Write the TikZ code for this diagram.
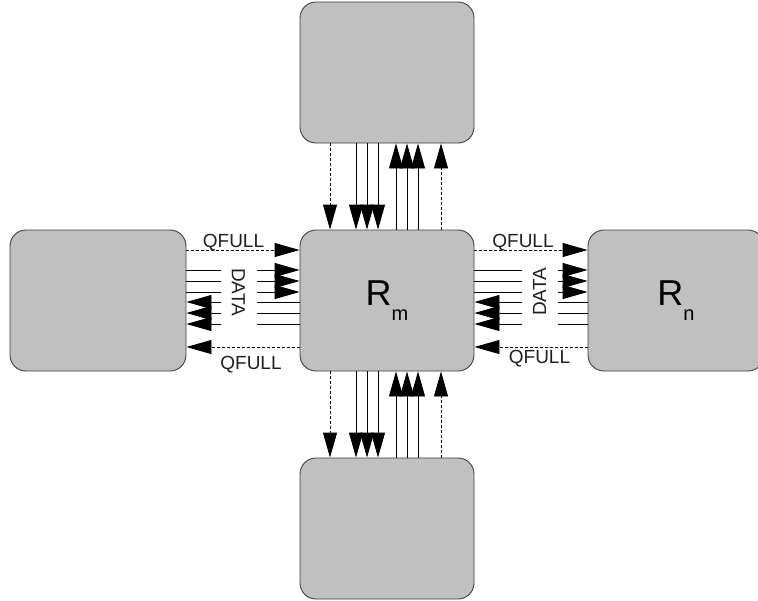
\documentclass[tikz,border=0pt]{standalone}
\usepackage{fontspec}
\setmainfont{Liberation Sans}
\usetikzlibrary{arrows.meta,calc}
\definecolor{boxgray}{HTML}{C0C0C0}
\definecolor{edgec}{HTML}{404040}
\definecolor{txtc}{HTML}{202020}
\begin{document}
\begin{tikzpicture}[x=1pt,y=-1pt,
  router/.style={draw=edgec,fill=boxgray,rounded corners=16pt,line width=0.9pt,
    inner sep=0pt,minimum height=141pt,text=black,font=\fontsize{36}{40}\selectfont},
  wire/.style={line width=0.9pt,-{Triangle[length=25pt,width=14pt]}},
  qwire/.style={wire,dash pattern=on 3pt off 2pt},
  lbl/.style={font=\fontsize{19}{21}\selectfont,text=txtc,inner sep=0pt},
  gap/.style={lbl,fill=white,minimum width=72pt,minimum height=36pt}
 ]
\useasboundingbox (0,0) rectangle (758,600);
\clip (0,0) rectangle (758,600);
\fill[white] (0,0) rectangle (758,600);
% routers
\node[router,minimum width=174pt] (c) at (387,300.5) {R\raisebox{-15pt}{\fontsize{20}{22}\selectfont m}};
\node[router,minimum width=174pt] (t) at (387,72.5) {};
\node[router,minimum width=174pt] (b) at (387,528.5) {};
\node[router,minimum width=176pt] (l) at (98,300.5) {};
\node[router,minimum width=176pt] (r) at (676,300.5) {R\raisebox{-15pt}{\fontsize{20}{22}\selectfont n}};
% top channel
\draw[qwire] ($(t.south)+(-57,0)$) -- ($(c.north)+(-57,0)$);
\foreach \dx in {-31,-20,-9} \draw[wire] ($(t.south)+(\dx,0)$) -- ($(c.north)+(\dx,0)$);
\foreach \dx in {9,20,31} \draw[wire] ($(c.north)+(\dx,0)$) -- ($(t.south)+(\dx,0)$);
\draw[qwire] ($(c.north)+(54,0)$) -- ($(t.south)+(54,0)$);
% bottom channel
\draw[qwire] ($(c.south)+(-57,0)$) -- ($(b.north)+(-57,0)$);
\foreach \dx in {-31,-20,-9} \draw[wire] ($(c.south)+(\dx,0)$) -- ($(b.north)+(\dx,0)$);
\foreach \dx in {9,20,31} \draw[wire] ($(b.north)+(\dx,0)$) -- ($(c.south)+(\dx,0)$);
\draw[qwire] ($(b.north)+(54,0)$) -- ($(c.south)+(54,0)$);
% left channel
\draw[qwire] ($(l.east)+(0,-50.5)$) -- ($(c.west)+(0,-50.5)$);
\foreach \dy in {-30.5,-19.5,-8.5} \draw[wire] ($(l.east)+(0,\dy)$) -- ($(c.west)+(0,\dy)$);
\foreach \dy in {1.5,12.5,23.5} \draw[wire] ($(c.west)+(0,\dy)$) -- ($(l.east)+(0,\dy)$);
\draw[qwire] ($(c.west)+(0,46.5)$) -- ($(l.east)+(0,46.5)$);
% right channel
\draw[qwire] ($(c.east)+(0,-50.5)$) -- ($(r.west)+(0,-50.5)$);
\foreach \dy in {-30.5,-19.5,-8.5} \draw[wire] ($(c.east)+(0,\dy)$) -- ($(r.west)+(0,\dy)$);
\foreach \dy in {1.5,12.5,23.5} \draw[wire] ($(r.west)+(0,\dy)$) -- ($(c.east)+(0,\dy)$);
\draw[qwire] ($(r.west)+(0,46.5)$) -- ($(c.east)+(0,46.5)$);
% labels
\node[gap,rotate=-90] (dl) at (238.5,292) {DATA};
\node[gap,rotate=90] (dr) at (539.5,292) {DATA};
\node[lbl,anchor=base] (qlt) at (233.5,247) {QFULL};
\node[lbl,anchor=base] (qlb) at (251,369) {QFULL};
\node[lbl,anchor=base] (qrt) at (523,247) {QFULL};
\node[lbl,anchor=base] (qrb) at (539.5,363) {QFULL};
\end{tikzpicture}
\end{document}
